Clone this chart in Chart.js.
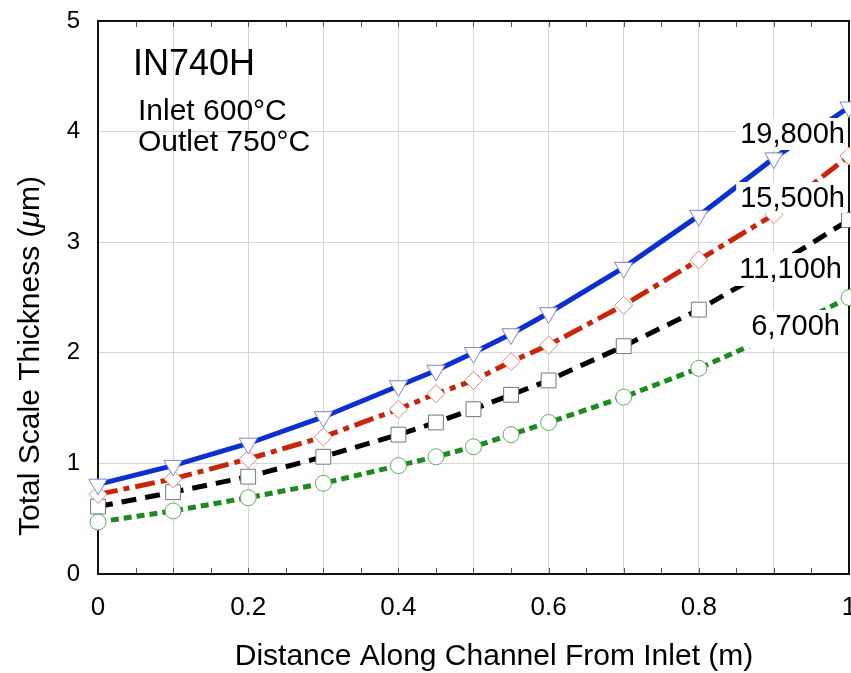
<!DOCTYPE html>
<html><head><meta charset="utf-8">
<script src="https://cdn.jsdelivr.net/npm/chart.js@4/dist/chart.umd.min.js"></script>
<style>html,body{margin:0;padding:0;background:#fff;overflow:hidden}canvas{display:block}</style>
</head><body>
<canvas id="c" width="851" height="673"></canvas>
<script>
// ---- data ----
const positions = [0, 0.1, 0.2, 0.3, 0.4, 0.45, 0.5, 0.55, 0.6, 0.7, 0.8, 0.9, 1.0];
const h19800 = [0.81, 0.98, 1.18, 1.42, 1.70, 1.84, 2.00, 2.17, 2.36, 2.77, 3.24, 3.76, 4.22];
const h15500 = [0.72, 0.86, 1.04, 1.24, 1.49, 1.63, 1.75, 1.92, 2.07, 2.43, 2.84, 3.25, 3.78];
const h11100 = [0.61, 0.74, 0.88, 1.06, 1.26, 1.37, 1.49, 1.62, 1.75, 2.06, 2.39, 2.78, 3.20];
const h6700  = [0.47, 0.57, 0.69, 0.82, 0.98, 1.06, 1.15, 1.26, 1.37, 1.60, 1.86, 2.16, 2.50];
const seriesNames = ['19,800h', '15,500h', '11,100h', '6,700h'];
const xTickLabels = ['0', '0.2', '0.4', '0.6', '0.8', '1'];
const yTickLabels = ['0', '1', '2', '3', '4', '5'];
const titleText = 'IN740H';
const noteLines = ['Inlet 600°C', 'Outlet 750°C'];
const xTitle = 'Distance Along Channel From Inlet (m)';
const yTitleParts = ['Total Scale Thickness (', 'μ', 'm)'];

const FONT = '"Liberation Sans", Arial, Helvetica, sans-serif';
const pts = arr => positions.map((x, i) => ({x, y: arr[i]}));

const datasets = [
  {label: seriesNames[0], data: pts(h19800), borderColor: '#0b2fd0', borderWidth: 5,
   pointStyle: 'triangle', rotation: 180, pointRadius: 10.5, pointBackgroundColor: '#fff',
   pointBorderColor: '#7b86c8', pointBorderWidth: 1},
  {label: seriesNames[1], data: pts(h15500), borderColor: '#c8250c', borderWidth: 5, borderDash: [20, 6, 6, 6],
   pointStyle: 'rectRot', pointRadius: 9, pointBackgroundColor: '#fff',
   pointBorderColor: '#e08a7c', pointBorderWidth: 1},
  {label: seriesNames[2], data: pts(h11100), borderColor: '#000', borderWidth: 5, borderDash: [15, 9],
   pointStyle: 'rect', pointRadius: 10.5, pointBackgroundColor: '#fff',
   pointBorderColor: '#777', pointBorderWidth: 1},
  {label: seriesNames[3], data: pts(h6700), borderColor: '#1c8a1c', borderWidth: 5, borderDash: [8, 5],
   pointStyle: 'circle', pointRadius: 8, pointBackgroundColor: '#fff',
   pointBorderColor: '#5fae5f', pointBorderWidth: 1}
].map(d => Object.assign(d, {tension: 0, fill: false, clip: false, borderCapStyle: 'butt'}));

const frameAndTicks = {
  id: 'frameAndTicks',
  beforeDatasetsDraw(chart) {
    const {ctx, chartArea: a, scales: {x}} = chart;
    ctx.save();
    ctx.strokeStyle = '#555';
    ctx.lineWidth = 1;
    for (let v = 0.05; v < 1; v += 0.05) {
      const px = Math.round(x.getPixelForValue(v)) + 0.5;
      ctx.beginPath();
      ctx.moveTo(px, a.bottom); ctx.lineTo(px, a.bottom - 6);
      ctx.moveTo(px, a.top); ctx.lineTo(px, a.top + 6);
      ctx.stroke();
    }
    ctx.strokeStyle = '#111';
    ctx.lineWidth = 2;
    ctx.strokeRect(a.left, a.top, a.right - a.left, a.bottom - a.top);
    ctx.restore();
  }
};

const texts = {
  id: 'texts',
  afterDraw(chart) {
    const {ctx} = chart;
    ctx.save();
    ctx.fillStyle = '#000';
    ctx.textBaseline = 'alphabetic';
    ctx.textAlign = 'left';
    ctx.font = '36px ' + FONT;
    ctx.fillText(titleText, 133, 75);
    ctx.font = '30px ' + FONT;
    ctx.fillText(noteLines[0], 138, 120);
    ctx.fillText(noteLines[1], 138, 151);

    // series labels with white boxes
    ctx.font = '29px ' + FONT;
    const labelPos = [[845, 143, 7], [845, 207, 6], [842, 278, 8], [840, 335, 13]];
    seriesNames.forEach((s, i) => {
      const [rx, by, db] = labelPos[i];
      const w = ctx.measureText(s).width;
      ctx.fillStyle = '#fff';
      ctx.fillRect(rx - w - 4, by - 25, w + 6, 25 + db);
      ctx.fillStyle = '#000';
      ctx.textAlign = 'right';
      ctx.fillText(s, rx, by);
    });

    // axis titles
    ctx.textAlign = 'center';
    ctx.textBaseline = 'middle';
    ctx.font = '30px ' + FONT;
    ctx.fillText(xTitle, 494, 657);

    ctx.save();
    ctx.translate(31, 356);
    ctx.rotate(-Math.PI / 2);
    const fonts = ['30px ' + FONT, 'italic 30px ' + FONT, '30px ' + FONT];
    let widths = yTitleParts.map((p, i) => { ctx.font = fonts[i]; return ctx.measureText(p).width; });
    let total = widths.reduce((a, b) => a + b, 0);
    let cx = -total / 2;
    ctx.textAlign = 'left';
    yTitleParts.forEach((p, i) => { ctx.font = fonts[i]; ctx.fillText(p, cx, 0); cx += widths[i]; });
    ctx.restore();
    ctx.restore();
  }
};

new Chart(document.getElementById('c'), {
  type: 'line',
  data: {datasets},
  options: {
    responsive: false,
    animation: false,
    layout: {autoPadding: false, padding: {top: 21, right: 2, left: 0, bottom: 0}},
    plugins: {legend: {display: false}, tooltip: {enabled: false}},
    scales: {
      x: {
        type: 'linear', min: 0, max: 1,
        ticks: {stepSize: 0.1, autoSkip: false, maxRotation: 0, color: '#000', padding: 18,
          font: {size: 26, family: FONT},
          callback: v => { const k = Math.round(v * 10); return k % 2 === 0 ? xTickLabels[k / 2] : ''; }},
        grid: {color: '#d6d6d6', lineWidth: 1, drawTicks: false},
        border: {display: false},
        afterFit: s => { s.height = 99; s.paddingLeft = 0; s.paddingRight = 0; }
      },
      y: {
        min: 0, max: 5,
        ticks: {stepSize: 1, color: '#000', padding: 18, font: {size: 24, family: FONT},
          callback: v => yTickLabels[Math.round(v)]},
        grid: {color: '#d6d6d6', lineWidth: 1, drawTicks: false},
        border: {display: false},
        afterFit: s => { s.width = 98; s.paddingTop = 0; s.paddingBottom = 0; }
      }
    }
  },
  plugins: [frameAndTicks, texts]
});
</script>
</body></html>
